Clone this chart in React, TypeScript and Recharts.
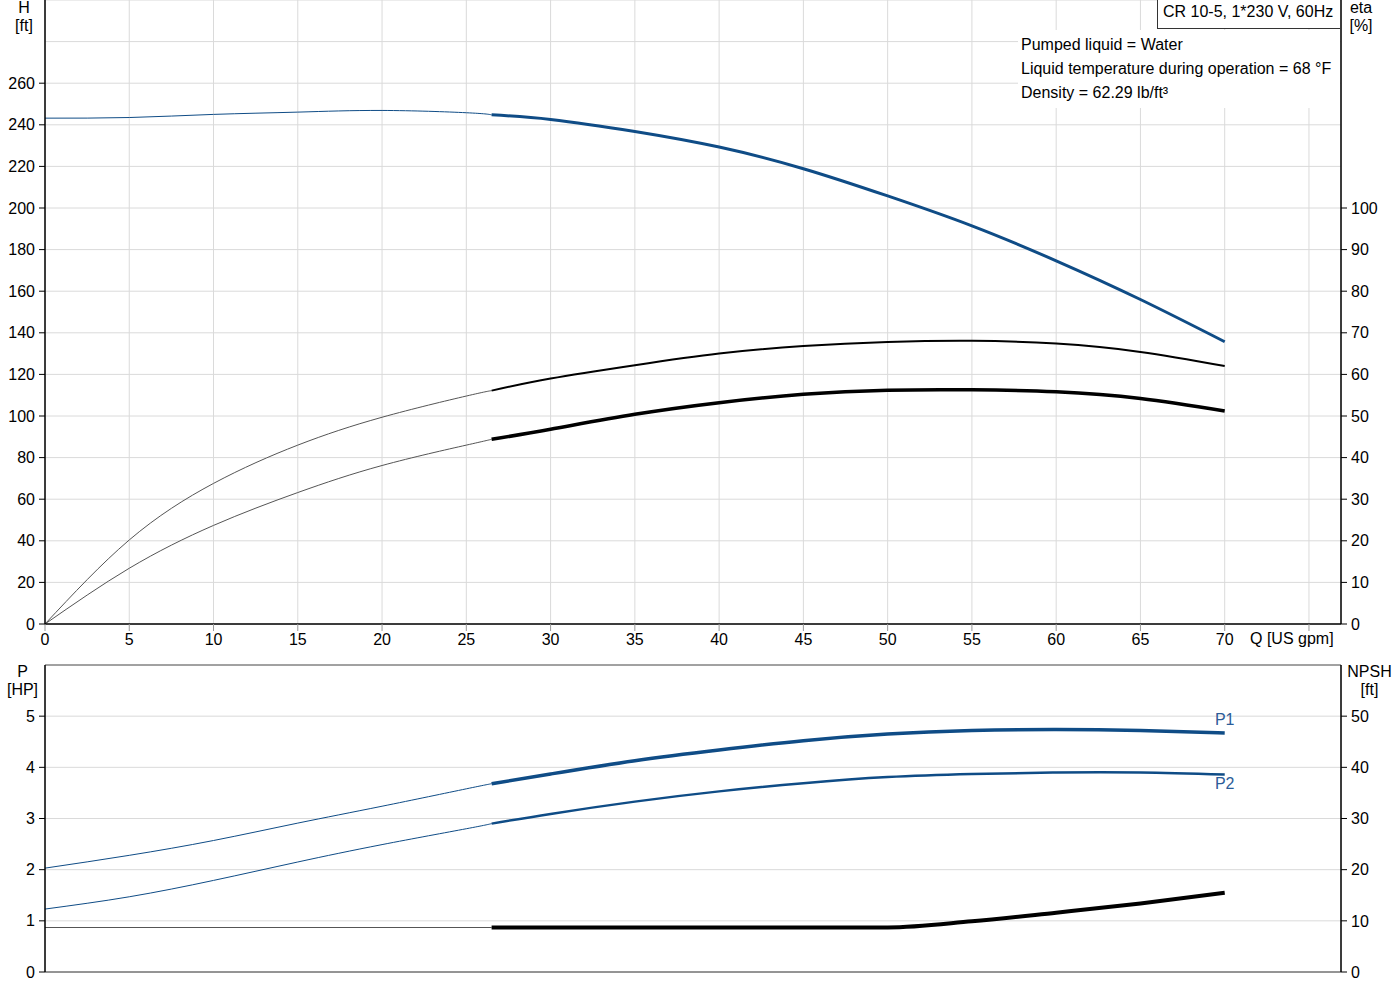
import { CartesianGrid, Line, LineChart, ReferenceDot, ReferenceLine, XAxis, YAxis } from "recharts";

// flow axis, US gpm
const flowTicks = [0, 5, 10, 15, 20, 25, 30, 35, 40, 45, 50, 55, 60, 65, 70, 75];
const headTicks = [0, 20, 40, 60, 80, 100, 120, 140, 160, 180, 200, 220, 240, 260, 280, 300];
const etaTicks = [0, 10, 20, 30, 40, 50, 60, 70, 80, 90, 100];
const powerTicks = [0, 1, 2, 3, 4, 5, 6];
const npshTicks = [0, 10, 20, 30, 40, 50];

// thin part of each curve runs up to 26.5 gpm, thick part from there on
const flowThin = [0, 5, 10, 15, 20, 25, 26.5];
const flowThick = [26.5, 30, 35, 40, 45, 50, 55, 60, 65, 70];

const headThin = [243.2, 243.5, 245.0, 246.1, 246.9, 245.8, 244.8];
const headThick = [244.8, 242.6, 236.8, 229.3, 218.9, 205.8, 191.4, 174.6, 156.0, 135.7];

const etaPumpThin = [0, 20.2, 33.8, 43.0, 49.7, 54.8, 56.1];
const etaPumpThick = [56.1, 59.0, 62.2, 65.0, 66.8, 67.8, 68.1, 67.4, 65.4, 62.0];

const etaTotalThin = [0, 13.4, 23.7, 31.6, 38.1, 43.0, 44.4];
const etaTotalThick = [44.4, 46.8, 50.4, 53.2, 55.2, 56.2, 56.3, 55.8, 54.2, 51.2];

const p1Thin = [2.03, 2.28, 2.57, 2.91, 3.24, 3.58, 3.68];
const p1Thick = [3.68, 3.87, 4.13, 4.34, 4.52, 4.65, 4.72, 4.74, 4.72, 4.67];

const p2Thin = [1.23, 1.47, 1.79, 2.15, 2.49, 2.8, 2.9];
const p2Thick = [2.9, 3.09, 3.33, 3.53, 3.69, 3.81, 3.87, 3.9, 3.9, 3.86];

const npshThin = [8.7, 8.7, 8.7, 8.7, 8.7, 8.7, 8.7];
const npshThick = [8.7, 8.7, 8.7, 8.7, 8.7, 8.7, 9.9, 11.6, 13.4, 15.5];

const infoLines = ["Pumped liquid = Water", "Liquid temperature during operation = 68 °F", "Density = 62.29 lb/ft³"];

const BLUE = "#0f4c86";
const GRID = "#dadada";
const FONT = "'Liberation Sans', Arial, sans-serif";

const flows = Array.from(new Set([...flowThin, ...flowThick])).sort((a, b) => a - b);

function valueAt(qs: number[], values: number[], q: number) {
  const i = qs.indexOf(q);
  return i < 0 ? undefined : values[i];
}

const rows = flows.map((q) => ({
  q,
  headThin: valueAt(flowThin, headThin, q),
  headThick: valueAt(flowThick, headThick, q),
  etaPumpThin: valueAt(flowThin, etaPumpThin, q),
  etaPumpThick: valueAt(flowThick, etaPumpThick, q),
  etaTotalThin: valueAt(flowThin, etaTotalThin, q),
  etaTotalThick: valueAt(flowThick, etaTotalThick, q),
  p1Thin: valueAt(flowThin, p1Thin, q),
  p1Thick: valueAt(flowThick, p1Thick, q),
  p2Thin: valueAt(flowThin, p2Thin, q),
  p2Thick: valueAt(flowThick, p2Thick, q),
  npshThin: valueAt(flowThin, npshThin, q),
  npshThick: valueAt(flowThick, npshThick, q),
}));

type TickProps = { x?: number; y?: number; payload?: { value: number } };

// left ticks: label and tick mark only up to `max`, grid still goes higher
function LeftTick({ x = 0, y = 0, payload, max }: TickProps & { max: number }) {
  const v = payload ? payload.value : 0;
  if (v > max) return <g />;
  return (
    <g>
      <line x1={x + 4} x2={x + 10} y1={y} y2={y} stroke="#000" />
      <text x={x} y={y} dy="0.35em" textAnchor="end" fontSize={16} fontFamily={FONT} fill="#000">
        {v}
      </text>
    </g>
  );
}

function FlowTick({ x = 0, y = 0, payload }: TickProps) {
  const v = payload ? payload.value : 0;
  if (v > 70) return <g />;
  return (
    <text x={x} y={y} dy="0.75em" textAnchor="middle" fontSize={16} fontFamily={FONT} fill="#000">
      {v}
    </text>
  );
}

const rightTick = { fontSize: 16, fontFamily: FONT, fill: "#000" };

function Txt({ left, top, width, children, align = "center" }: { left: number; top: number; width?: number; children: string; align?: "center" | "left" }) {
  return (
    <div
      style={{
        position: "absolute",
        left,
        top,
        width,
        textAlign: align,
        fontFamily: FONT,
        fontSize: 16,
        lineHeight: "18px",
        color: "#000",
        whiteSpace: "nowrap",
      }}
    >
      {children}
    </div>
  );
}

export default function App() {
  return (
    <div style={{ position: "absolute", left: 0, top: 0, width: 1400, height: 1000, background: "#fff" }}>
      <div style={{ position: "absolute", left: 0, top: 0 }}>
        <LineChart width={1400} height={650} data={rows} margin={{ top: 0, right: 0, bottom: 0, left: 0 }}>
          <CartesianGrid yAxisId="h" stroke={GRID} />
          <XAxis
            dataKey="q"
            type="number"
            domain={[0, 76.9]}
            ticks={flowTicks}
            height={26}
            tickSize={7}
            tickMargin={2}
            interval={0}
            axisLine={{ stroke: "#000", strokeWidth: 1.5 }}
            tickLine={{ stroke: "#999" }}
            tick={(p: TickProps) => <FlowTick {...p} />}
          />
          <YAxis
            yAxisId="h"
            type="number"
            domain={[0, 300]}
            ticks={headTicks}
            width={45}
            tickSize={6}
            tickMargin={4}
            interval={0}
            axisLine={{ stroke: "#000", strokeWidth: 1.5 }}
            tickLine={false}
            tick={(p: TickProps) => <LeftTick {...p} max={260} />}
          />
          <YAxis
            yAxisId="eta"
            orientation="right"
            type="number"
            domain={[0, 150]}
            ticks={etaTicks}
            width={59}
            tickSize={6}
            tickMargin={4}
            interval={0}
            axisLine={{ stroke: "#000", strokeWidth: 1.5 }}
            tickLine={{ stroke: "#000" }}
            tick={rightTick}
          />
          <Line yAxisId="h" dataKey="headThin" type="natural" stroke={BLUE} strokeWidth={1} dot={false} activeDot={false} isAnimationActive={false} />
          <Line yAxisId="h" dataKey="headThick" type="natural" stroke={BLUE} strokeWidth={3} dot={false} activeDot={false} isAnimationActive={false} />
          <Line yAxisId="eta" dataKey="etaPumpThin" type="natural" stroke="#555" strokeWidth={1} dot={false} activeDot={false} isAnimationActive={false} />
          <Line yAxisId="eta" dataKey="etaPumpThick" type="natural" stroke="#000" strokeWidth={2} dot={false} activeDot={false} isAnimationActive={false} />
          <Line yAxisId="eta" dataKey="etaTotalThin" type="natural" stroke="#555" strokeWidth={1} dot={false} activeDot={false} isAnimationActive={false} />
          <Line yAxisId="eta" dataKey="etaTotalThick" type="natural" stroke="#000" strokeWidth={3.5} dot={false} activeDot={false} isAnimationActive={false} />
        </LineChart>
      </div>

      <div style={{ position: "absolute", left: 0, top: 650 }}>
        <LineChart width={1400} height={340} data={rows} margin={{ top: 15, right: 0, bottom: 0, left: 0 }}>
          <CartesianGrid yAxisId="p" stroke={GRID} />
          <XAxis
            dataKey="q"
            type="number"
            domain={[0, 76.9]}
            ticks={flowTicks}
            height={18}
            interval={0}
            axisLine={{ stroke: "#777", strokeWidth: 1.5 }}
            tickLine={false}
            tick={false}
          />
          <YAxis
            yAxisId="p"
            type="number"
            domain={[0, 6]}
            ticks={powerTicks}
            width={45}
            tickSize={6}
            tickMargin={4}
            interval={0}
            axisLine={{ stroke: "#000", strokeWidth: 1.5 }}
            tickLine={false}
            tick={(p: TickProps) => <LeftTick {...p} max={5} />}
          />
          <YAxis
            yAxisId="npsh"
            orientation="right"
            type="number"
            domain={[0, 60]}
            ticks={npshTicks}
            width={59}
            tickSize={6}
            tickMargin={4}
            interval={0}
            axisLine={{ stroke: "#000", strokeWidth: 1.5 }}
            tickLine={{ stroke: "#000" }}
            tick={rightTick}
          />
          <ReferenceLine yAxisId="p" y={6} stroke="#888" strokeWidth={1.5} />
          <Line yAxisId="p" dataKey="p1Thin" type="natural" stroke={BLUE} strokeWidth={1} dot={false} activeDot={false} isAnimationActive={false} />
          <Line yAxisId="p" dataKey="p1Thick" type="natural" stroke={BLUE} strokeWidth={3.5} dot={false} activeDot={false} isAnimationActive={false} />
          <Line yAxisId="p" dataKey="p2Thin" type="natural" stroke={BLUE} strokeWidth={1} dot={false} activeDot={false} isAnimationActive={false} />
          <Line yAxisId="p" dataKey="p2Thick" type="natural" stroke={BLUE} strokeWidth={2.5} dot={false} activeDot={false} isAnimationActive={false} />
          <Line yAxisId="npsh" dataKey="npshThin" type="monotone" stroke="#555" strokeWidth={1.2} dot={false} activeDot={false} isAnimationActive={false} />
          <Line yAxisId="npsh" dataKey="npshThick" type="monotone" stroke="#000" strokeWidth={4} dot={false} activeDot={false} isAnimationActive={false} />
          <ReferenceDot
            yAxisId="p"
            x={flowThick[flowThick.length - 1]}
            y={p1Thick[p1Thick.length - 1]}
            r={0}
            stroke="none"
            label={{ value: "P1", position: "top", offset: 8, fill: "#2b5c98", fontSize: 16, fontFamily: FONT }}
          />
          <ReferenceDot
            yAxisId="p"
            x={flowThick[flowThick.length - 1]}
            y={p2Thick[p2Thick.length - 1]}
            r={0}
            stroke="none"
            label={{ value: "P2", position: "bottom", offset: 3, fill: "#2b5c98", fontSize: 16, fontFamily: FONT }}
          />
        </LineChart>
      </div>

      {/* axis titles */}
      <Txt left={0} top={-1} width={48}>H</Txt>
      <Txt left={0} top={17} width={48}>[ft]</Txt>
      <Txt left={1341} top={-1} width={40}>eta</Txt>
      <Txt left={1341} top={17} width={40}>[%]</Txt>
      <Txt left={1250} top={630} align="left">Q [US gpm]</Txt>
      <Txt left={0} top={663} width={45}>P</Txt>
      <Txt left={0} top={681} width={45}>[HP]</Txt>
      <Txt left={1341} top={663} width={57}>NPSH</Txt>
      <Txt left={1341} top={681} width={57}>[ft]</Txt>

      {/* operating conditions block */}
      <div style={{ position: "absolute", left: 1018, top: 30, width: 322, height: 78, background: "#fff" }}>
        {infoLines.map((line, i) => (
          <div
            key={line}
            style={{
              position: "absolute",
              left: 3,
              top: 6 + i * 24,
              fontFamily: FONT,
              fontSize: 16,
              lineHeight: "18px",
              color: "#000",
              whiteSpace: "nowrap",
            }}
          >
            {line}
          </div>
        ))}
      </div>
      <div
        style={{
          position: "absolute",
          left: 1157,
          top: 0,
          width: 183,
          height: 29,
          background: "#fff",
          borderLeft: "1px solid #333",
          borderBottom: "1px solid #333",
          fontFamily: FONT,
          fontSize: 16,
          lineHeight: "24px",
          paddingLeft: 5,
          boxSizing: "border-box",
          whiteSpace: "nowrap",
          color: "#000",
        }}
      >
        CR 10-5, 1*230 V, 60Hz
      </div>
    </div>
  );
}
